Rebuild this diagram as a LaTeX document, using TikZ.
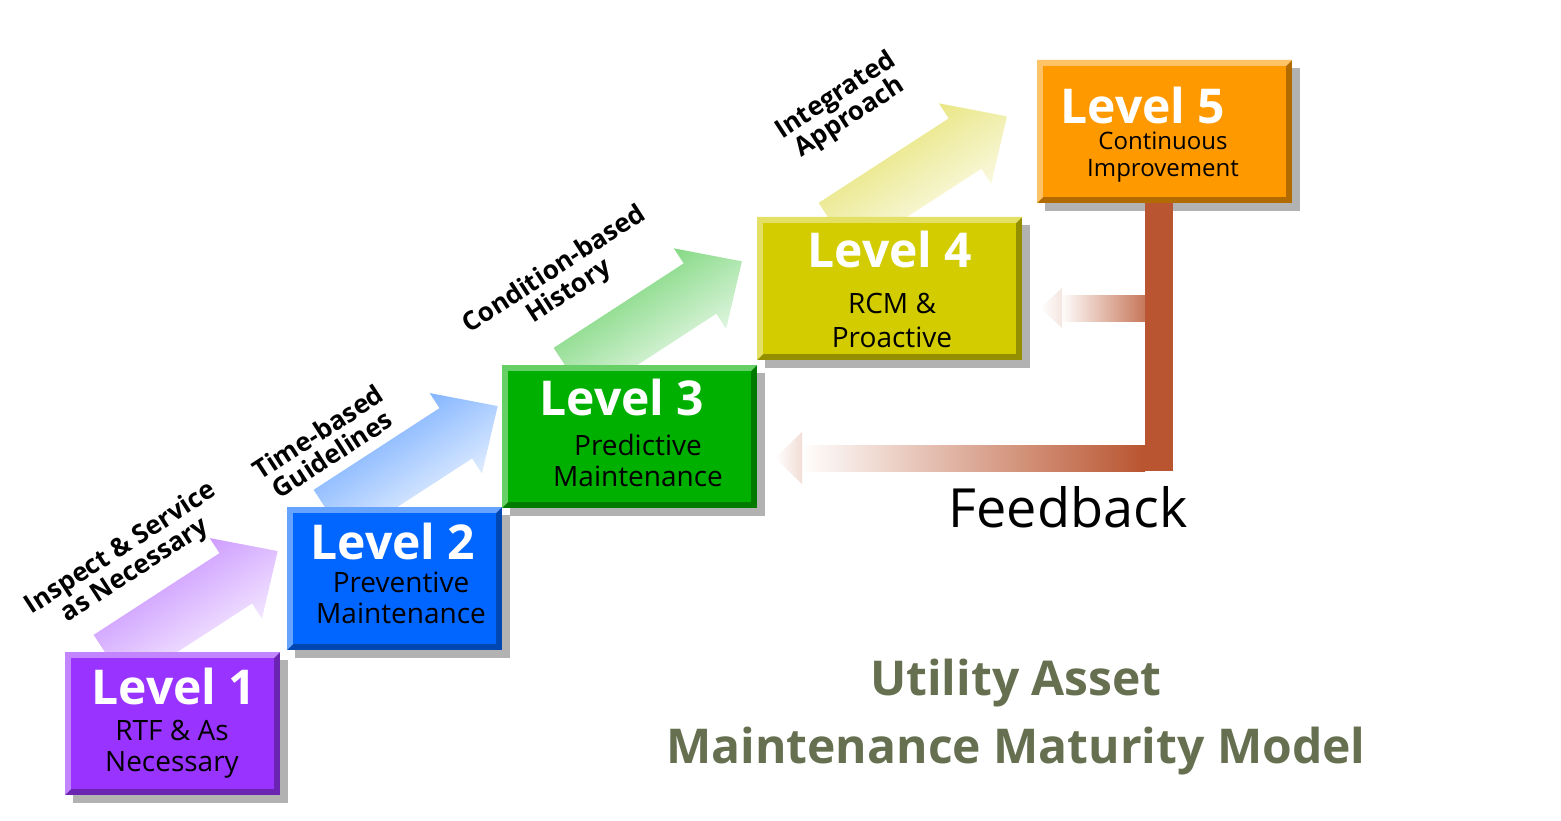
\documentclass[tikz,border=0pt]{standalone}
\usepackage{fontspec}
\setmainfont{Open Sans}
\usetikzlibrary{calc}
\definecolor{lvA}{HTML}{9933FF}
\definecolor{lvB}{HTML}{0066FF}
\definecolor{lvC}{HTML}{00B000}
\definecolor{lvD}{HTML}{D2CC00}
\definecolor{lvE}{HTML}{FF9900}
\definecolor{fb}{HTML}{B95530}
\definecolor{ttl}{HTML}{667050}
\tikzset{
  shadowbox/.style={fill=black!30},
  ltitle/.style={font=\bfseries\fontsize{48}{48}\selectfont, text=white},
  lsub/.style={font=\fontsize{28}{31}\selectfont, text=black, align=center},
  steplbl/.style={font=\bfseries\fontsize{26}{26}\selectfont, align=center, rotate=33}
}
\newcommand{\lvbox}[5]{% name, x, y, w, colour
  \fill[shadowbox] (#2+8,#3+8) rectangle ++(#4,143);
  \fill[#5!70!black] (#2,#3) rectangle ++(#4,143);
  \fill[#5!60!white] (#2,#3) -- ++(#4,0) -- ++(-6,6) -- (#2+6,#3+137) -- ++(-6,6) -- cycle;
  \fill[#5] (#2+6,#3+6) rectangle ++(#4-12,131);
  \coordinate (#1) at (#2+#4/2,#3+71.5);
}
\newcommand{\steparrow}[4]{% x, y, length, colour
  \coordinate (o) at (#1,#2);
  \shade[left color=#4!60, right color=white, shading angle=33]
    ($(o)+(57:30)$) -- ++(-33:#3-50) -- ++(57:18) -- ($(o)+(-33:#3)$)
    -- ($(o)+(-33:#3-50)+(-123:48)$) -- ++(57:18) -- ($(o)+(-123:30)$) -- cycle;
}
\begin{document}
\begin{tikzpicture}[x=1pt,y=-1pt]
\useasboundingbox (0,0) rectangle (1561,821);
% step arrows
\steparrow{110}{660}{200}{lvA}
\steparrow{330}{515}{200}{lvB}
\steparrow{570}{373}{205}{lvC}
\steparrow{835}{228}{205}{lvD}
% boxes
\lvbox{b1}{65}{652}{215}{lvA}
\lvbox{b2}{287}{507}{215}{lvB}
\lvbox{b3}{502}{365}{255}{lvC}
\lvbox{b4}{757}{217}{265}{lvD}
\lvbox{b5}{1037}{60}{255}{lvE}
\node[ltitle] (t1) at (174,686) {Level 1};
\node[lsub] (s1) at (172,749) {RTF \& As\\Necessary};
\node[ltitle] (t2) at (393,541) {Level 2};
\node[lsub] (s2) at (401,598) {Preventive\\Maintenance};
\node[ltitle] (t3) at (622,397) {Level 3};
\node[lsub] (s3) at (638,460) {Predictive\\Maintenance};
\node[ltitle] (t4) at (890,250) {Level 4};
\node[lsub, font=\fontsize{28}{34}\selectfont] (s4) at (892,320) {RCM \&\\Proactive};
\node[ltitle] (t5) at (1143,106) {Level 5};
\node[lsub, font=\fontsize{24}{27}\selectfont] (s5) at (1163,157) {Continuous\\Improvement};
% step labels
\node[steplbl] (a1) at (128,560) {Inspect \& Service\\as Necessary};
\node[steplbl] (a2) at (325,443) {Time-based\\Guidelines};
\node[steplbl] (a3) at (562,281) {Condition-based\\History};
\node[steplbl] (a4) at (843,107) {Integrated\\Approach};
% feedback
\fill[fb] (1145,203) rectangle (1173,471);
\shade[left color=white, right color=fb] (800,445) rectangle (1145,471);
\shade[left color=white, right color=white!80!fb] (775,458) -- (802,432) -- (802,484) -- cycle;
\shade[left color=white, right color=fb!80] (1060,295) rectangle (1145,321);
\shade[left color=white, right color=white!85!fb] (1040,308) -- (1062,288) -- (1062,328) -- cycle;
\node[font=\fontsize{54}{54}\selectfont] (fbl) at (1068,507) {Feedback};
% title
\node[font=\bfseries\fontsize{48}{68}\selectfont, text=ttl, align=center] (ttl) at (1016,717) {Utility Asset\\Maintenance Maturity Model};
\end{tikzpicture}
\end{document}
